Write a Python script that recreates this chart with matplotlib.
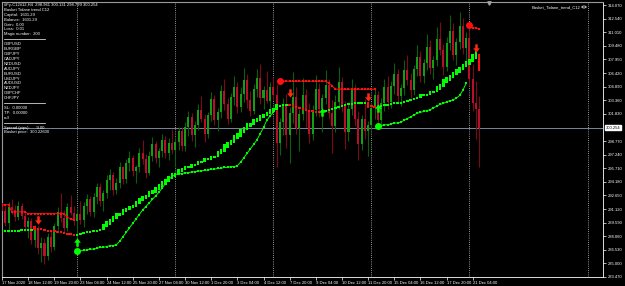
import numpy as np
import matplotlib
matplotlib.use("Agg")
import matplotlib.pyplot as plt
from matplotlib.path import Path
from matplotlib.transforms import blended_transform_factory

W, H = 625, 286
FONT = "Liberation Sans"
FS = 3.0

# ---- candles (H4 bars, basket price) ----
opens = [291.0, 291.8, 290.9, 289.6, 291.4, 291.0, 290.2, 291.5, 290.3, 289.1,
         289.8, 287.6, 288.9, 286.7, 287.3, 285.8, 288.0, 286.9, 289.2, 290.8,
         290.1, 289.0, 291.3, 290.7, 289.8, 290.6, 289.9, 291.5, 292.2, 290.8,
         292.5, 293.6, 292.0, 292.9, 294.4, 294.9, 293.3, 294.1, 295.8, 294.5,
         296.3, 296.9, 295.4, 295.9, 297.4, 296.7, 295.2, 297.1, 298.4, 296.9,
         297.6, 298.9, 297.4, 298.6, 297.8, 298.7, 299.9, 298.2, 300.4, 301.5,
         299.4, 300.6, 302.3, 301.2, 299.6, 301.7, 303.5, 301.1, 302.0, 304.4,
         302.9, 301.3, 303.7, 304.9, 302.6, 304.1, 305.6, 303.4, 302.2, 304.6,
         305.9, 303.6, 304.5, 303.3, 304.8, 303.9, 298.6, 300.9, 302.8, 299.4,
         301.9, 303.7, 300.2, 301.8, 303.9, 302.1, 299.6, 302.3, 304.6, 302.4,
         303.6, 305.1, 301.9, 300.5, 303.2, 305.4, 302.7, 299.8, 302.4, 304.6,
         301.3, 298.4, 301.2, 299.9, 300.6, 302.5, 303.9, 301.1, 303.0, 304.9,
         303.2, 305.0, 306.3, 303.8, 304.7, 306.8, 305.6, 304.5, 306.9, 308.2,
         306.1, 307.6, 309.4, 307.0, 307.9, 310.3, 309.0, 307.1, 309.8, 311.2,
         308.5, 309.9, 311.7, 309.2, 310.4, 305.8, 303.1, 302.4]
highs = [292.6, 292.3, 291.5, 291.9, 292.2, 291.6, 292.0, 291.8, 290.9, 290.2,
         290.1, 289.3, 289.2, 288.0, 287.9, 288.4, 288.6, 289.6, 291.4, 292.9,
         291.0, 291.8, 292.7, 291.5, 291.2, 292.0, 291.9, 292.8, 292.6, 292.9,
         294.1, 294.0, 293.3, 295.0, 295.6, 295.3, 294.6, 296.4, 296.0, 296.8,
         297.6, 297.2, 296.1, 298.0, 298.9, 297.3, 297.7, 299.2, 298.8, 298.0,
         299.6, 299.3, 299.1, 300.1, 299.2, 300.4, 300.3, 300.9, 302.2, 301.9,
         301.0, 302.9, 303.8, 301.8, 302.0, 304.3, 304.0, 302.5, 305.1, 305.8,
         303.6, 304.2, 306.1, 305.4, 304.8, 307.0, 306.3, 304.4, 305.2, 306.9,
         307.4, 305.0, 306.6, 305.4, 306.0, 305.2, 301.4, 303.6, 304.1, 302.6,
         306.5, 304.8, 302.4, 305.9, 304.6, 303.0, 302.8, 306.2, 305.3, 304.1,
         306.8, 305.7, 303.4, 303.9, 307.1, 306.0, 303.3, 302.9, 305.8, 305.2,
         302.1, 301.7, 303.5, 301.0, 303.2, 304.7, 304.4, 303.6, 305.8, 306.1,
         305.5, 307.6, 306.9, 305.2, 307.9, 308.4, 306.4, 307.3, 309.6, 308.9,
         308.0, 310.8, 310.1, 308.3, 311.6, 312.2, 309.7, 310.5, 313.0, 312.1,
         310.4, 313.3, 312.6, 311.0, 311.3, 307.4, 305.5, 303.8]
lows = [290.1, 290.4, 289.2, 288.5, 290.6, 289.8, 289.9, 290.0, 288.6, 287.9,
        287.2, 286.8, 286.1, 285.2, 284.9, 285.4, 286.3, 286.5, 288.8, 289.7,
        288.4, 288.7, 290.5, 289.3, 287.9, 289.4, 289.1, 290.6, 290.3, 290.2,
        291.7, 291.5, 290.9, 292.4, 293.3, 292.7, 292.8, 293.5, 293.9, 294.1,
        295.4, 294.8, 294.0, 295.3, 296.2, 294.6, 294.9, 296.5, 296.3, 295.8,
        297.0, 296.9, 296.6, 297.3, 295.9, 297.8, 297.6, 297.7, 299.3, 298.8,
        298.1, 300.0, 300.9, 298.7, 299.1, 301.0, 300.6, 299.9, 301.4, 302.3,
        300.7, 300.9, 302.8, 301.9, 302.0, 303.2, 302.5, 301.6, 301.8, 303.7,
        302.9, 302.4, 303.1, 302.0, 303.4, 295.8, 297.2, 299.5, 298.0, 296.3,
        300.8, 299.6, 297.7, 301.1, 300.3, 298.5, 298.9, 301.6, 301.5, 299.8,
        302.9, 301.2, 297.4, 299.8, 302.4, 302.0, 297.9, 298.8, 301.7, 300.5,
        296.6, 297.8, 299.0, 297.1, 299.9, 301.3, 300.2, 300.6, 302.2, 302.4,
        302.5, 304.1, 303.0, 302.7, 304.0, 305.1, 303.6, 304.0, 306.1, 305.4,
        305.3, 306.8, 306.3, 305.7, 307.2, 308.4, 306.2, 306.6, 309.0, 307.9,
        307.3, 309.1, 308.6, 307.8, 305.0, 302.2, 299.0, 295.8]
closes = [291.8, 290.9, 289.6, 291.4, 291.0, 290.2, 291.5, 290.3, 289.1, 289.8,
          287.6, 288.9, 286.7, 287.3, 285.8, 288.0, 286.9, 289.2, 290.8, 290.1,
          289.0, 291.3, 290.7, 289.8, 290.6, 289.9, 291.5, 292.2, 290.8, 292.5,
          293.6, 292.0, 292.9, 294.4, 294.9, 293.3, 294.1, 295.8, 294.5, 296.3,
          296.9, 295.4, 295.9, 297.4, 296.7, 295.2, 297.1, 298.4, 296.9, 297.6,
          298.9, 297.4, 298.6, 297.8, 298.7, 299.9, 298.2, 300.4, 301.5, 299.4,
          300.6, 302.3, 301.2, 299.6, 301.7, 303.5, 301.1, 302.0, 304.4, 302.9,
          301.3, 303.7, 304.9, 302.6, 304.1, 305.6, 303.4, 302.2, 304.6, 305.9,
          303.6, 304.5, 303.3, 304.8, 303.9, 298.6, 300.9, 302.8, 299.4, 301.9,
          303.7, 300.2, 301.8, 303.9, 302.1, 299.6, 302.3, 304.6, 302.4, 303.6,
          305.1, 301.9, 300.5, 303.2, 305.4, 302.7, 299.8, 302.4, 304.6, 301.3,
          298.4, 301.2, 299.9, 300.6, 302.5, 303.9, 301.1, 303.0, 304.9, 303.2,
          305.0, 306.3, 303.8, 304.7, 306.8, 305.6, 304.5, 306.9, 308.2, 306.1,
          307.6, 309.4, 307.0, 307.9, 310.3, 309.0, 307.1, 309.8, 311.2, 308.5,
          309.9, 311.7, 309.2, 310.4, 305.8, 303.1, 302.4, 300.254]

# ---- trend line (thick blocks), direction per bar ----
trend = [288.6, 288.6, 288.6, 288.7, 288.7, 288.7, 288.7, 288.8, 288.8, 288.8, 288.8,
         289.0, 288.9, 288.9, 288.8, 288.7, 288.7, 288.6, 288.5, 288.5, 288.4, 288.3, 288.3, 288.2,
         288.2, 288.3, 288.4, 288.5, 288.5, 288.6, 288.7, 288.8,
         289.1, 289.4, 289.7, 290.0, 290.3, 290.5, 290.8, 291.0, 291.2, 291.4,
         291.7, 292.0, 292.3, 292.5, 292.8, 293.0, 293.3,
         293.6, 293.9, 294.2, 294.5, 294.8, 295.0, 295.3, 295.5,
         295.7, 295.8, 296.0, 296.1, 296.3, 296.4, 296.6, 296.7, 296.9, 297.0,
         297.3, 297.6, 298.0, 298.3, 298.6, 299.0, 299.3, 299.7, 300.0, 300.4,
         300.6, 300.9, 301.1, 301.4, 301.6, 301.8, 302.1, 302.3,
         302.6, 302.7, 302.8, 302.8,
         302.8, 302.7, 302.6, 302.5, 302.4, 302.3, 302.2, 302.1, 302.0, 302.0,
         302.1, 302.2, 302.3, 302.4, 302.5, 302.6, 302.7, 302.8, 302.9, 302.9, 303.0, 303.0, 303.1, 303.1,
         302.8, 302.7, 302.6,
         302.6, 302.7, 302.8, 302.8, 302.9, 303.0, 303.1, 303.1, 303.2, 303.3, 303.4,
         303.5, 303.6, 303.8, 303.9, 304.0, 304.2, 304.3,
         304.6, 304.9, 305.3, 305.6,
         305.9, 306.2, 306.5, 306.8,
         307.1, 307.4, 307.7, 308.1, 308.5,
         307.6]
trend_dir = ["up"] * 11 + ["dn"] * 13 + ["up"] * 65 + ["dn"] * 10 + ["up"] * 14 + ["dn"] * 3 + ["up"] * 31 + ["dn"]

# ---- trailing stop lines ----
res1_start = 0
res1 = [291.6, 291.6, 291.6, 291.6, 290.8, 290.8, 290.8, 290.8, 290.8, 290.6,
        290.6, 290.6, 290.6, 290.6, 290.6, 290.6, 290.6, 290.6, 290.6, 290.6,
        290.6, 290.2, 290.0, 289.9]
sup1_start = 24
sup1 = [286.4, 286.4, 286.5, 286.5, 286.6, 286.6, 286.7, 286.8, 286.8, 286.9, 287.0, 287.0, 287.1,
        287.5, 288.0, 288.5, 289.0, 289.5, 290.0, 290.5, 291.0, 291.4, 291.8, 292.2, 292.6,
        293.0, 293.5, 294.0, 294.4, 294.8,
        295.0, 295.1, 295.1, 295.2, 295.2, 295.3, 295.3, 295.4, 295.4, 295.5,
        295.5, 295.6, 295.6, 295.7, 295.7, 295.8, 295.8, 295.9, 295.9, 296.0,
        296.4, 296.9, 297.4, 297.9, 298.4, 298.9, 299.6, 300.3, 301.1, 301.6, 302.0]
res2_start = 86
res2 = [305.5] * 15 + [305.3, 305.0] + [304.6] * 13
sup2_start = 116
sup2 = [300.5, 300.5, 300.6, 300.6, 300.7, 300.8, 300.8, 300.9, 301.1, 301.3,
        301.5, 301.7, 301.9, 302.0, 302.1, 302.2, 302.3, 302.5, 302.7, 302.9,
        303.0, 303.2, 303.3, 303.4, 303.6, 303.9, 304.5, 305.3]
res3_start = 144
res3 = [311.8, 311.5, 311.5, 311.4]

# ---- signals ----
dn_arrows_x = [12, 89, 113, 146]
dn_arrows_y = [289.9, 304.2, 303.7, 309.2]
up_arrows_x = [24, 99, 116]
up_arrows_y = [287.4, 302.0, 302.5]

separators = [24, 54, 84, 114, 144, 180.3]
bid = 300.254

ytick_vals = [314.07, 312.54, 311.01, 309.48, 307.95, 306.42, 304.89, 303.36, 301.83,
              298.77, 297.24, 295.71, 294.18, 292.65, 291.12, 289.59, 288.06, 286.53,
              285.00, 283.47]
xtick_bars = [1, 9, 17, 25, 33, 41, 49, 57, 65, 73, 81, 89, 97, 105, 113, 121, 129, 137, 145]
xtick_labels = ["17 Nov 2020", "18 Nov 12:00", "19 Nov 20:00", "23 Nov 04:00", "24 Nov 12:00",
                "25 Nov 20:00", "27 Nov 04:00", "30 Nov 12:00", "1 Dec 20:00", "3 Dec 04:00",
                "4 Dec 12:00", "7 Dec 20:00", "9 Dec 04:00", "10 Dec 12:00", "11 Dec 20:00",
                "15 Dec 04:00", "16 Dec 12:00", "17 Dec 20:00", "21 Dec 04:00"]

info_lines = ["#Fy-C12#12,H4  298.961 300.131 298.799 300.254",
              "Basket Tidane trend C12", "Capital:  1601.29", "Balance:  1601.29",
              "Gain:  0.00", "Loss:  0.01", "Magic number:  200", "-",
              "GBPUSD", "EURGBP", "GBPJPY", "CADJPY", "NZDUSD", "AUDJPY", "EURUSD",
              "USDJPY", "AUDUSD", "NZDJPY", "GBPCHF", "CHFJPY", "-",
              "SL:  0.00000", "TP:  0.00000", "null", "-",
              "Spread (pips):      9.00", "Basket price:  300.22600"]

# ------------------------------------------------------------
fig = plt.figure(figsize=(W / 100, H / 100), dpi=100, facecolor="black")
ax = fig.add_axes([2 / W, 9 / H, 601 / W, 275 / H], facecolor="black")

idx = np.arange(len(closes))
o = np.array(opens); h = np.array(highs); l = np.array(lows); c = np.array(closes)
up = c >= o
wick_col = np.where(up, "#0b5e0b", "#7a0a18")
body_col = np.where(up, "#12a012", "#b8102a")
ax.vlines(idx, l, h, colors=wick_col, lw=0.8, zorder=2)
body_lo = np.minimum(o, c)
body_h = np.maximum(np.abs(c - o), 0.15)
ax.bar(idx, body_h, bottom=body_lo, width=0.62, color=body_col, lw=0, zorder=3)

# trend blocks
tv = np.array(trend)
dv = np.abs(np.diff(tv, prepend=tv[0]))
th = np.maximum(0.22, 2.2 * dv)
tcol = ["#00ff00" if d == "up" else "#ff1010" for d in trend_dir]
ax.bar(idx, th, bottom=tv - th / 2, width=0.75, color=tcol, lw=0, zorder=4)


def stop_line(start, vals, col, dot=True):
    xs = np.arange(start, start + len(vals))
    ax.plot(xs, vals, color=col, lw=0.7, zorder=5)
    ax.plot(xs, vals, "s", color=col, ms=1.5, mew=0, zorder=5)
    if dot:
        ax.plot(xs[0], vals[0], "o", color=col, ms=5, mew=0, zorder=6)


stop_line(res1_start, res1, "#ff1010", dot=False)
stop_line(sup1_start, sup1, "#00ff00")
stop_line(res2_start, res2, "#ff1010")
stop_line(sup2_start, sup2, "#00ff00")
stop_line(res3_start, res3, "#ff1010")

arrow_v = [(-0.3, 1), (0.3, 1), (0.3, 0.05), (0.8, 0.05), (0, -1), (-0.8, 0.05), (-0.3, 0.05), (-0.3, 1)]
codes = [Path.MOVETO] + [Path.LINETO] * 6 + [Path.CLOSEPOLY]
dn_marker = Path(arrow_v, codes)
up_marker = Path([(x, -y) for x, y in arrow_v], codes)
ax.plot(dn_arrows_x, dn_arrows_y, ls="none", marker=dn_marker, ms=6, color="#ff2a10", mew=0, zorder=7)
ax.plot(up_arrows_x, up_arrows_y, ls="none", marker=up_marker, ms=6, color="#00ff00", mew=0, zorder=7)

for s in separators:
    ax.axvline(s, color="#c8c8c8", lw=0.6, ls=(0, (1, 1.6)), zorder=1)
ax.axhline(bid, color="#778899", lw=0.7, zorder=1)

ax.set_xlim(1.07, 184.86)
ax.set_ylim(283.48, 314.42)

ax.yaxis.tick_right()
ax.set_yticks(ytick_vals)
ax.set_yticklabels([f"{v:.3f}" for v in ytick_vals], fontsize=FS, family=FONT, color="white")
ax.tick_params(axis="y", colors="white", length=2, width=0.5, pad=1.2)
ax.set_xticks(xtick_bars)
ax.set_xticklabels(xtick_labels, fontsize=FS, family=FONT, color="white", ha="left")
ax.tick_params(axis="x", colors="white", length=2, width=0.5, pad=1.0)
for side in ["left", "top"]:
    ax.spines[side].set_color("#9a9a9a")
    ax.spines[side].set_linewidth(0.8)
for side in ["right", "bottom"]:
    ax.spines[side].set_color("white")
    ax.spines[side].set_linewidth(0.6)

tr = blended_transform_factory(ax.transAxes, ax.transData)
ax.text(1.004, bid, f"{bid:.3f}", transform=tr, fontsize=FS, family=FONT, color="black",
        va="center", ha="left", bbox=dict(boxstyle="square,pad=0.15", fc="white", ec="white"))

# info block, top-left
for k, line in enumerate(info_lines):
    ypx = 5 + 4.9 * k
    if line == "-":
        fig.add_artist(plt.Line2D([4 / W, 45 / W], [1 - ypx / H, 1 - ypx / H], color="white", lw=0.5))
    else:
        fig.text(4 / W, 1 - ypx / H, line, fontsize=FS, family=FONT, color="white", va="center")

fig.text(580 / W, 1 - 7 / H, "Basket_Tidane_trend_C12", fontsize=FS, family=FONT, color="white",
         va="center", ha="right")
fig.add_artist(plt.Circle((584 / W, 1 - 7 / H), 2.2 / W, transform=fig.transFigure,
                          fill=False, ec="white", lw=0.5))
ax.plot([150], [314.3], marker="v", ms=2.5, color="#a0a0a0", clip_on=False, zorder=8)

fig.savefig("out.png", dpi=100, facecolor="black")
